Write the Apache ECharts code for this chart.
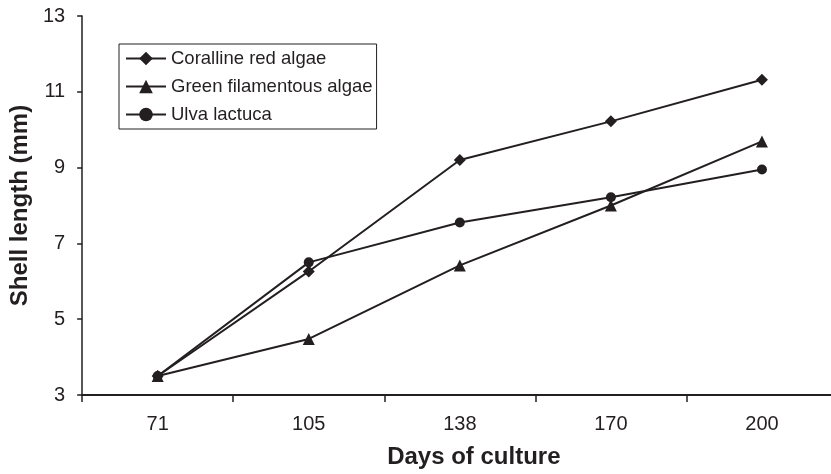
<!DOCTYPE html>
<html><head><meta charset="utf-8">
<script src="https://cdn.jsdelivr.net/npm/echarts@6/dist/echarts.min.js"></script>
<style>html,body{margin:0;padding:0;background:#fff;overflow:hidden}#c{width:840px;height:474px}</style>
</head><body><div id="c"></div>
<script>
var days = ['71', '105', '138', '170', '200'];
var coralline = [3.5, 6.26, 9.2, 10.22, 11.32];
var greenFil = [3.5, 4.48, 6.42, 8.0, 9.69];
var ulva = [3.5, 6.5, 7.55, 8.22, 8.95];
var seriesNames = ['Coralline red algae', 'Green filamentous algae', 'Ulva lactuca'];
var yTicks = {min: 3, max: 13, interval: 2};

var ink = '#231f20';
function mk(name, data, symbol, size) {
  return {
    name: name, type: 'line', data: data, symbol: symbol, symbolSize: size,
    itemStyle: {color: ink}, lineStyle: {color: ink, width: 2}, animation: false
  };
}
var chart = echarts.init(document.getElementById('c'));
chart.setOption({
  animation: false,
  grid: {left: 80, right: 2.5, top: 16, bottom: 78, containLabel: false},
  legend: {
    orient: 'vertical', left: 119, top: 44,
    data: seriesNames,
    itemWidth: 40, itemHeight: 17, itemGap: 9,
    padding: [5, 4, 5, 6],
    borderColor: ink, borderWidth: 1,
    textStyle: {fontFamily: 'Liberation Sans, Arial', fontSize: 18.5, color: ink, lineHeight: 19}
  },
  xAxis: {
    type: 'category', data: days, boundaryGap: true,
    name: 'Days of culture', nameLocation: 'middle', nameGap: 50,
    nameTextStyle: {fontFamily: 'Liberation Sans, Arial', fontWeight: 'bold', fontSize: 24, color: ink, padding: [0, 0, 0, 28]},
    axisLine: {lineStyle: {color: ink, width: 2}},
    axisTick: {show: true, length: 7, lineStyle: {color: ink, width: 1.5}},
    axisLabel: {fontFamily: 'Liberation Sans, Arial', fontSize: 20, color: ink, margin: 19},
    splitLine: {show: false}
  },
  yAxis: {
    type: 'value', min: yTicks.min, max: yTicks.max, interval: yTicks.interval,
    name: 'Shell length (mm)', nameLocation: 'middle', nameGap: 44,
    nameTextStyle: {fontFamily: 'Liberation Sans, Arial', fontWeight: 'bold', fontSize: 24, color: ink},
    axisLine: {show: true, lineStyle: {color: ink, width: 1.5}},
    axisTick: {show: true, length: 5, lineStyle: {color: ink, width: 1.5}},
    axisLabel: {fontFamily: 'Liberation Sans, Arial', fontSize: 20, color: ink, margin: 17},
    splitLine: {show: false}
  },
  series: [
    mk(seriesNames[0], coralline, 'diamond', 12),
    mk(seriesNames[1], greenFil, 'triangle', 12),
    mk(seriesNames[2], ulva, 'circle', 10)
  ]
});
</script></body></html>
